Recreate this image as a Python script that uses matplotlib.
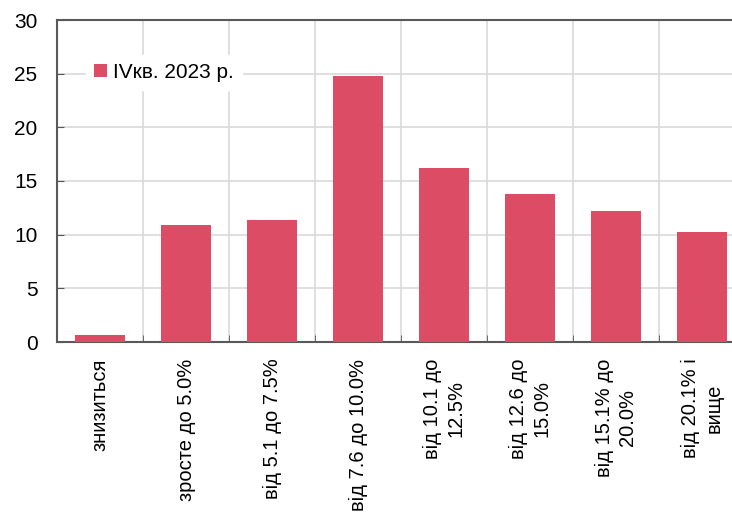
import numpy as np
import matplotlib.pyplot as plt

plt.rcParams['font.family'] = ['Liberation Sans', 'DejaVu Sans']

categories = ['знизиться', 'зросте до 5.0%', 'від 5.1 до 7.5%', 'від 7.6 до 10.0%',
              'від 10.1 до\n12.5%', 'від 12.6 до\n15.0%', 'від 15.1% до\n20.0%', 'від 20.1% і\nвище']
values = [0.65, 10.9, 11.35, 24.8, 16.2, 13.8, 12.2, 10.25]
series_name = 'IVкв. 2023 р.'

fig = plt.figure(figsize=(7.32, 5.14), dpi=100)
ax = fig.add_axes([57/732, 1 - 342/514, 688/732, 322/514])

x = np.arange(len(categories))
ax.bar(x, values, width=0.58, color='#DC4C65', label=series_name, zorder=3)

ax.set_xlim(-0.5, len(categories) - 0.5)
ax.set_ylim(0, 30)
ax.set_yticks(range(0, 31, 5))
ax.set_xticks(x)
ax.set_xticklabels(categories, rotation=90, fontsize=14.5, va='top', ha='center',
                   multialignment='center', linespacing=1.3)
ax.tick_params(axis='x', length=0, pad=12)
ax.tick_params(axis='y', labelsize=15, direction='in', length=5, color='#555555', pad=14)

# vertical grid at category boundaries
ax.set_xticks(np.arange(-0.5, len(categories), 1), minor=True)
ax.tick_params(axis='x', which='minor', direction='in', length=5, color='#555555')
ax.grid(axis='x', which='minor', color='#d9d9d9', linewidth=1.2, zorder=0)
ax.grid(axis='y', which='major', color='#d9d9d9', linewidth=1.2, zorder=0)

for s in ['left', 'bottom', 'top']:
    ax.spines[s].set_color('#595959')
    ax.spines[s].set_linewidth(1.5)
ax.spines['right'].set_visible(False)

leg = ax.legend(loc='upper left', bbox_to_anchor=(0.027, 0.925), frameon=True, fontsize=15,
                handlelength=0.6, handleheight=0.6, handletextpad=0.3, borderpad=0.4)
leg.get_frame().set_edgecolor('white')
leg.get_frame().set_facecolor('white')
leg.get_frame().set_alpha(1)
leg.set_zorder(5)

fig.savefig('out.png', dpi=100)
